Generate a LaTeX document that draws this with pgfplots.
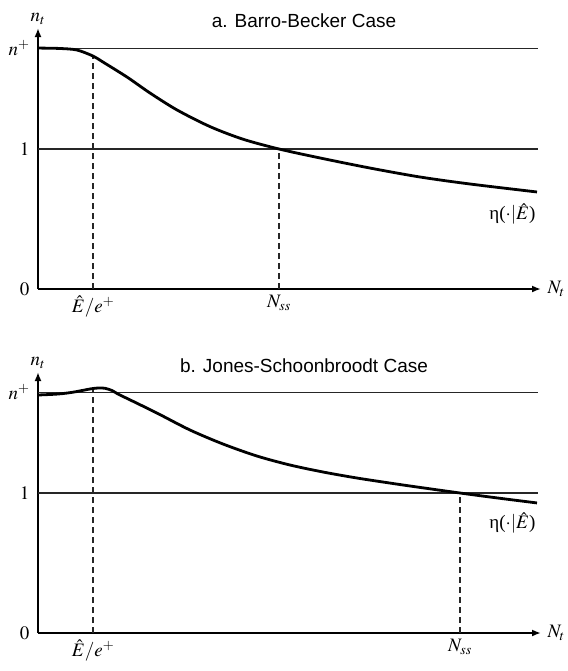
\documentclass[border=0pt]{standalone}
\usepackage{mathptmx}
\usepackage[no-math]{fontspec}
\setmainfont{Liberation Serif}
\newfontfamily\arial{Liberation Sans}
\usepackage{pgfplots}
\pgfplotsset{compat=1.18}
\usetikzlibrary{arrows.meta}

% curve a: Barro-Becker
\pgfplotstableread{
x y
0 1.721
22 1.718
39 1.707
55 1.664
65 1.621
89 1.514
112 1.400
139 1.279
172 1.160
205 1.070
241 1.000
282 0.936
332 0.864
382 0.800
432 0.750
499 0.693
}\curvea

% curve b: Jones-Schoonbroodt
\pgfplotstableread{
x y
0 1.700
20 1.707
35 1.720
52 1.743
60 1.750
67 1.748
74 1.732
80 1.707
95 1.655
119 1.571
152 1.450
185 1.350
219 1.264
252 1.200
285 1.150
319 1.107
352 1.071
375 1.047
422 1.000
460 0.964
499 0.929
}\curveb

\pgfplotsset{
  panel/.style={
    scale only axis, width=503pt, height=261pt,
    xmin=0, xmax=503, ymin=0, ymax=1.8643,
    axis lines=left, clip=false,
    axis line style={line width=2.8pt},
    x axis line style={-{Latex[length=9pt,width=7pt]}},
    y axis line style={-{Latex[length=9pt,width=7pt]}},
    ytick={0,1,1.72}, yticklabels={$0$,$1$,$n^{+}$},
    major tick length=0pt,
    tick style={draw=none},
    ticklabel style={font=\fontsize{19}{22}\selectfont},
    yticklabel style={xshift=-5pt},
    xticklabel style={yshift=-3pt},
  },
  hline/.style={line width=1.1pt, black!85},
  dline/.style={line width=1.1pt, black!85, dash pattern=on 6pt off 4pt},
  crv/.style={line width=2.8pt, black, smooth},
}

\begin{document}
\begin{tikzpicture}
\path[use as bounding box] (0pt,0pt) rectangle (567pt,-671pt);

\begin{axis}[panel, at={(38pt,-289pt)}, anchor=south west,
  xtick={55,241}, xticklabels={$\hat{E}/e^{+}$,$N_{ss}$}]
  \addplot[hline] coordinates {(0,1.72) (500,1.72)};
  \addplot[hline] coordinates {(0,1) (500,1)};
  \addplot[dline] coordinates {(55,0) (55,1.664)};
  \addplot[dline] coordinates {(241,0) (241,1)};
  \addplot[crv] table {\curvea};
  \node[above=0pt, font=\fontsize{19}{22}\selectfont] at (rel axis cs:0,1) {$n_t$};
  \node[right=3pt, font=\fontsize{19}{22}\selectfont] at (rel axis cs:1,0) {$N_t$};
\end{axis}

\begin{axis}[panel, at={(38pt,-633pt)}, anchor=south west,
  xtick={55,422}, xticklabels={$\hat{E}/e^{+}$,$N_{ss}$}]
  \addplot[hline] coordinates {(0,1.72) (500,1.72)};
  \addplot[hline] coordinates {(0,1) (500,1)};
  \addplot[dline] coordinates {(55,0) (55,1.748)};
  \addplot[dline] coordinates {(422,0) (422,1)};
  \addplot[crv] table {\curveb};
  \node[above=0pt, font=\fontsize{19}{22}\selectfont] at (rel axis cs:0,1) {$n_t$};
  \node[right=3pt, font=\fontsize{19}{22}\selectfont] at (rel axis cs:1,0) {$N_t$};
\end{axis}

\node[font=\arial\fontsize{19}{22}\selectfont] at (304pt,-21pt) {a. Barro-Becker Case};
\node[font=\arial\fontsize{19}{22}\selectfont] at (304pt,-366pt) {b. Jones-Schoonbroodt Case};
\node[anchor=east, font=\fontsize{19}{22}\selectfont] at (539pt,-214pt) {η($\cdot|\hat{E}$)};
\node[anchor=east, font=\fontsize{19}{22}\selectfont] at (539pt,-523pt) {η($\cdot|\hat{E}$)};
\end{tikzpicture}
\end{document}
